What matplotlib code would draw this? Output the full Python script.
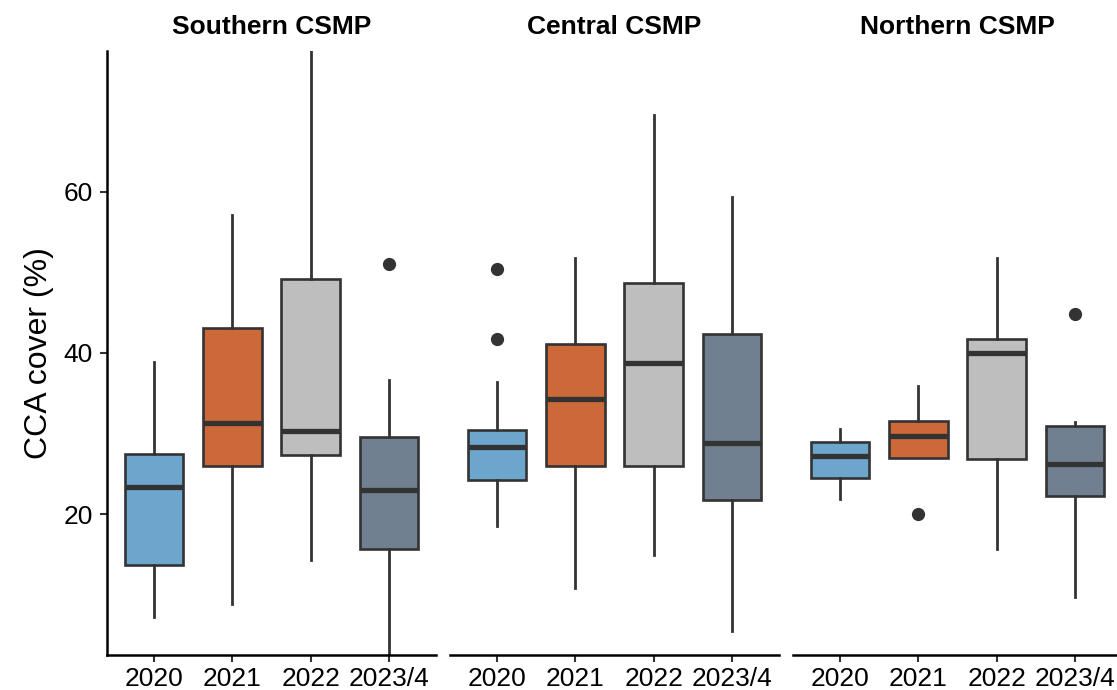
import matplotlib.pyplot as plt
import numpy as np

plt.rcParams['font.family'] = ['Liberation Sans', 'DejaVu Sans']

regions = ['Southern CSMP', 'Central CSMP', 'Northern CSMP']
years = ['2020', '2021', '2022', '2023/4']
fills = ['#6CA6CD', '#CD6839', '#BEBEBE', '#708090']

# box statistics, one row per region, one column per year
medians = [[23.4, 31.3, 30.3, 23.0],
           [28.3, 34.3, 38.8, 28.8],
           [27.2, 29.7, 40.0, 26.2]]
q1 = [[13.7, 26.0, 27.3, 15.7],
      [24.2, 26.0, 26.0, 21.7],
      [24.5, 27.0, 26.8, 22.2]]
q3 = [[27.5, 43.1, 49.2, 29.6],
      [30.5, 41.1, 48.7, 42.3],
      [28.9, 31.6, 41.7, 30.9]]
whislo = [[7.2, 8.8, 14.3, 2.0],
          [18.5, 10.8, 14.9, 5.5],
          [21.9, 27.0, 15.7, 9.7]]
whishi = [[38.9, 57.1, 78.5, 36.6],
          [36.4, 51.8, 69.6, 59.4],
          [30.6, 35.9, 51.8, 31.4]]
outliers = [[[], [], [], [51.1]],
            [[50.4, 41.8], [], [], []],
            [[], [20.0], [], [44.8]]]

W, H = 1117, 690
size = 19
dark = '#333333'

fig = plt.figure(figsize=(W / 100, H / 100), dpi=100)
lefts = [107, 450, 793]
pw = 329

for i, region in enumerate(regions):
    ax = fig.add_axes([lefts[i] / W, 35 / H, pw / W, 604 / H])
    stats = []
    for j in range(len(years)):
        stats.append(dict(med=medians[i][j], q1=q1[i][j], q3=q3[i][j],
                          whislo=whislo[i][j], whishi=whishi[i][j],
                          fliers=outliers[i][j]))
    bp = ax.bxp(stats, positions=np.arange(1, 5), widths=0.75, patch_artist=True,
                showcaps=False,
                boxprops=dict(edgecolor=dark, linewidth=1.9),
                medianprops=dict(color=dark, linewidth=3.8, solid_capstyle='butt'),
                whiskerprops=dict(color=dark, linewidth=2.0),
                flierprops=dict(marker='o', markerfacecolor=dark,
                                markeredgecolor=dark, markersize=8.5))
    for patch, c in zip(bp['boxes'], fills):
        patch.set_facecolor(c)

    ax.set_xlim(0.4, 4.6)
    ax.set_ylim(2.5, 77.5)
    ax.set_xticks(np.arange(1, 5))
    ax.set_xticklabels(years)
    ax.set_yticks([20, 40, 60])

    for s in ['top', 'right']:
        ax.spines[s].set_visible(False)
    ax.spines['bottom'].set_linewidth(1.8)
    ax.spines['left'].set_linewidth(1.8)
    ax.tick_params(axis='both', length=5, width=1.5, color=dark,
                   labelsize=size, labelcolor='black', pad=4)
    ax.tick_params(axis='y', pad=5)

    if i == 0:
        ax.set_ylabel('CCA cover (%)', fontsize=23, labelpad=7)
    else:
        ax.spines['left'].set_visible(False)
        ax.tick_params(axis='y', left=False, labelleft=False)

    ax.annotate(region, xy=(0.5, 1), xycoords='axes fraction',
                xytext=(0, 17), textcoords='offset points',
                ha='center', va='center', fontsize=19, fontweight='bold')

fig.savefig('out.png', dpi=100)
